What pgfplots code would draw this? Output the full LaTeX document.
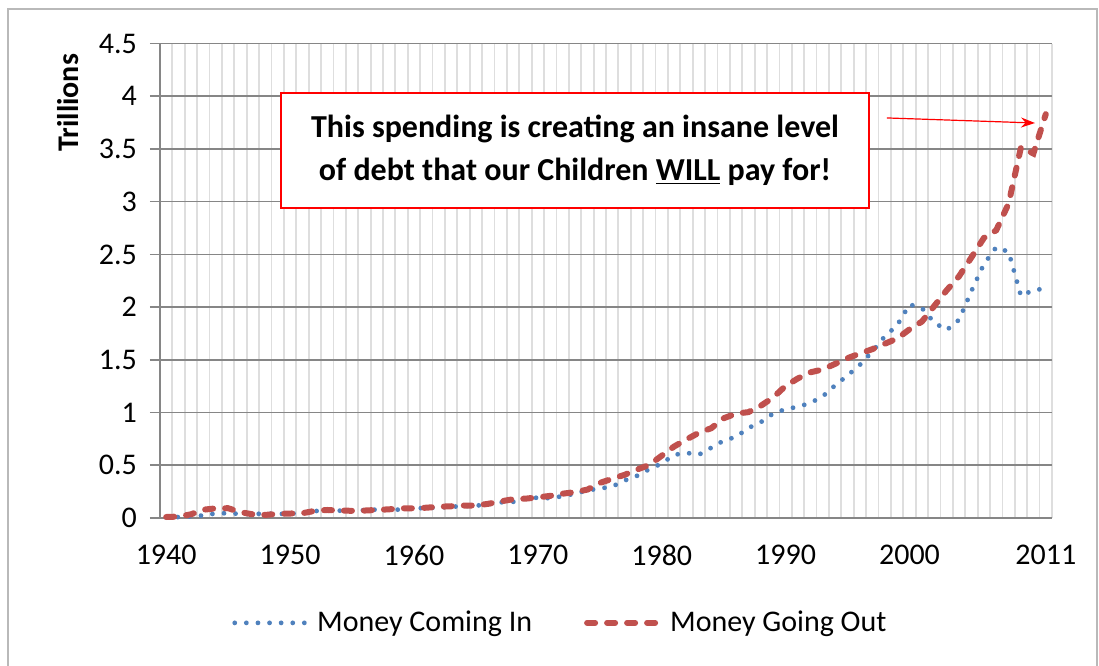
\documentclass[border=0pt]{standalone}
\usepackage{pgfplots}
\pgfplotsset{compat=1.18}
\usepackage{pgfplotstable}
\usetikzlibrary{arrows.meta}
\usepackage{fontspec}
\setmainfont{Carlito}
\definecolor{inblue}{RGB}{79,129,189}
\definecolor{outred}{RGB}{192,80,77}
\definecolor{majgrid}{RGB}{134,134,134}
\definecolor{mingrid}{RGB}{222,222,222}

\pgfplotstableread{
year in out
1940 0.0065 0.0095
1941 0.0089 0.0136
1942 0.0147 0.0351
1943 0.0243 0.0785
1944 0.0439 0.0917
1945 0.0452 0.0927
1946 0.0393 0.0552
1947 0.0385 0.0346
1948 0.0416 0.0295
1949 0.0394 0.0389
1950 0.0394 0.0425
1951 0.0516 0.0455
1952 0.0662 0.0678
1953 0.0696 0.0761
1954 0.0697 0.0709
1955 0.0654 0.0682
1956 0.0745 0.0707
1957 0.0800 0.0766
1958 0.0796 0.0824
1959 0.0792 0.0921
1960 0.0925 0.0922
1961 0.0944 0.0977
1962 0.0997 0.1068
1963 0.1066 0.1113
1964 0.1126 0.1185
1965 0.1168 0.1182
1966 0.1308 0.1348
1967 0.1488 0.1575
1968 0.1530 0.1781
1969 0.1866 0.1836
1970 0.1928 0.1956
1971 0.1872 0.2101
1972 0.2073 0.2307
1973 0.2309 0.2457
1974 0.2630 0.2694
1975 0.2791 0.3322
1976 0.2982 0.3717
1977 0.3557 0.4095
1978 0.3999 0.4589
1979 0.4630 0.5040
1980 0.5171 0.5909
1981 0.5993 0.6782
1982 0.6176 0.7455
1983 0.6006 0.8082
1984 0.6667 0.8518
1985 0.7341 0.9460
1986 0.7692 0.9903
1987 0.8542 1.0040
1988 0.9091 1.0645
1989 0.9912 1.1435
1990 1.0320 1.2530
1991 1.0550 1.3243
1992 1.0912 1.3815
1993 1.1543 1.4093
1994 1.2587 1.4618
1995 1.3518 1.5158
1996 1.4532 1.5601
1997 1.5791 1.6012
1998 1.7218 1.6524
1999 1.8273 1.7017
2000 2.0252 1.7890
2001 1.9912 1.8628
2002 1.8532 2.0107
2003 1.7822 2.1598
2004 1.8801 2.2928
2005 2.1535 2.4720
2006 2.4066 2.6552
2007 2.5680 2.7290
2008 2.5240 2.9825
2009 2.1050 3.5172
2010 2.1627 3.4566
2011 2.1740 3.8300
}\budget

\begin{document}
\begin{tikzpicture}
\useasboundingbox (0,0) rectangle (549.5pt,-332.5pt);
\draw[gray!55, line width=0.8pt] (4pt,-4.5pt) rectangle (548.5pt,-340pt);
\begin{axis}[
  at={(80pt,-259pt)}, anchor=south west,
  scale only axis, width=446pt, height=237.25pt,
  xmin=1939.5, xmax=2011.5, ymin=0, ymax=4.5,
  axis x line=bottom, axis y line=left,
  axis line style={majgrid, line width=0.8pt, -},
  xtick={1940,1950,1960,1970,1980,1990,2000,2011},
  xticklabels={1940,1950,1960,1970,1980,1990,2000,2011},
  minor xtick={1939.5,1940.5,...,2011.5},
  ytick={0,0.5,...,4.5},
  yticklabels={0,0.5,1,1.5,2,2.5,3,3.5,4,4.5},
  xmajorgrids=false, xminorgrids=true, ymajorgrids=true,
  major grid style={majgrid, line width=0.8pt},
  minor grid style={mingrid, line width=0.9pt},
  major x tick style={draw=none}, minor x tick style={draw=none},
  ytick style={majgrid, line width=0.8pt},
  tick align=outside, major tick length=5pt,
  tick label style={font=\fontsize{15}{18}\selectfont},
  /pgf/number format/assume math mode=true,
  yticklabel style={xshift=-3pt},
  xticklabel style={yshift=-5pt},
  ylabel={\textbf{Trillions}},
  every axis y label/.style={at={(axis description cs:-0.103,0.875)}, rotate=90, anchor=center, font=\fontsize{15}{18}\selectfont},
  legend style={draw=none, at={(0.45,-0.221)}, anchor=center, legend columns=2,
    font=\fontsize{15}{18}\selectfont,
    /tikz/every even column/.append style={column sep=24pt}},
  legend image code/.code={\draw[#1] (0pt,0pt) -- (38pt,0pt);},
  clip=false,
]
\addplot[inblue, line width=2.4pt, line cap=round, dash pattern=on 0pt off 5.8pt] table[x=year,y=in] {\budget};
\addlegendentry{Money Coming In}
\addplot[outred, line width=3pt, line cap=round, dash pattern=on 4pt off 6pt] table[x=year,y=out] {\budget};
\addlegendentry{Money Going Out}
\node[draw=red, line width=1pt, fill=white, minimum width=294pt, minimum height=57.5pt, align=center, inner sep=0pt,
  font=\fontsize{16}{21.5}\selectfont\bfseries] at (axis cs:1973.0,3.487)
  {This spending is creating an insane level\\of debt that our Children \underline{WILL} pay for!};
\draw[red, line width=0.6pt, -{Stealth[length=7pt,width=5pt]}] (axis cs:1998.18,3.794) -- (axis cs:2010.13,3.746);
\end{axis}
\end{tikzpicture}
\end{document}
